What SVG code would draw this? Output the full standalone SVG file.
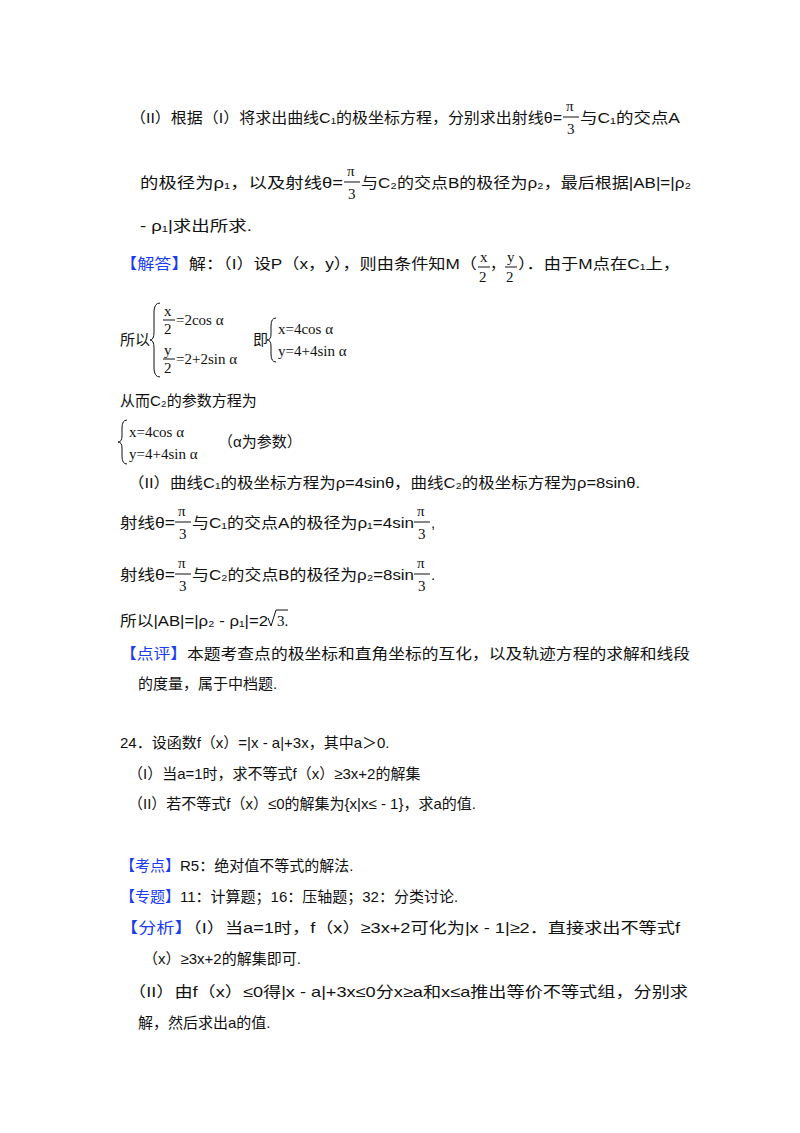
<svg xmlns="http://www.w3.org/2000/svg" width="800" height="1133" viewBox="0 0 800 1133">
<style>
text{font-family:"Liberation Sans","Noto Sans CJK SC",sans-serif;font-size:15px;fill:#111}
.b{fill:#1a3cf0}
.m{font-family:"Liberation Serif","Noto Sans CJK SC",serif;font-size:15px}
.fl{stroke:#111;stroke-width:1}
.br{fill:none;stroke:#111;stroke-width:1}
</style>
<rect width="800" height="1133" fill="#fff"/>
<g id="p1">
<text x="130" y="123" textLength="432" lengthAdjust="spacingAndGlyphs">（II）根据（I）将求出曲线C₁的极坐标方程，分别求出射线θ=</text>
<text class="m" x="566" y="111">π</text><line class="fl" x1="563" y1="117" x2="579" y2="117"/><text class="m" x="567" y="134">3</text>
<text x="580" y="123" textLength="100" lengthAdjust="spacingAndGlyphs">与C₁的交点A</text>
<text x="140" y="188" textLength="203" lengthAdjust="spacingAndGlyphs">的极径为ρ₁，以及射线θ=</text>
<text class="m" x="347" y="176">π</text><line class="fl" x1="344" y1="182" x2="360" y2="182"/><text class="m" x="348" y="199">3</text>
<text x="361" y="188" textLength="330" lengthAdjust="spacingAndGlyphs">与C₂的交点B的极径为ρ₂，最后根据|AB|=|ρ₂</text>
<text x="140" y="231" textLength="112" lengthAdjust="spacingAndGlyphs">- ρ₁|求出所求.</text>
</g>
<g id="p2">
<text x="120" y="269" textLength="357" lengthAdjust="spacingAndGlyphs"><tspan class="b">【解答】</tspan>解：（I）设P（x，y），则由条件知M（</text>
<text class="m" x="480" y="262">x</text><line class="fl" x1="478" y1="267" x2="490" y2="267"/><text class="m" x="479" y="282">2</text>
<text x="490" y="269">，</text>
<text class="m" x="507" y="262">y</text><line class="fl" x1="505" y1="267" x2="517" y2="267"/><text class="m" x="506" y="282">2</text>
<text x="518" y="269" textLength="162" lengthAdjust="spacingAndGlyphs">）．由于M点在C₁上，</text>
</g>
<g id="sys1">
<text x="120" y="345">所以</text>
<path class="br" d="M160,303 Q154,303 154,312 L154,332 Q154,340 150,340 Q154,340 154,348 L154,368 Q154,377 160,377"/>
<text class="m" x="164" y="316">x</text><line class="fl" x1="163" y1="320" x2="175" y2="320"/><text class="m" x="164" y="334">2</text>
<text class="m" x="176" y="325">=2cos α</text>
<text class="m" x="164" y="355">y</text><line class="fl" x1="163" y1="359" x2="175" y2="359"/><text class="m" x="164" y="373">2</text>
<text class="m" x="176" y="364">=2+2sin α</text>
<text x="253" y="345">即</text>
<path class="br" d="M276,318 Q271,318 271,326 L271,334 Q271,340 267,340 Q271,340 271,346 L271,354 Q271,362 276,362"/>
<text class="m" x="278" y="334">x=4cos α</text>
<text class="m" x="278" y="356">y=4+4sin α</text>
</g>
<g id="p3">
<text x="120" y="406">从而C₂的参数方程为</text>
<path class="br" d="M127,420 Q122,420 122,428 L122,436 Q122,442 118,442 Q122,442 122,448 L122,456 Q122,464 127,464"/>
<text class="m" x="129" y="437">x=4cos α</text>
<text class="m" x="129" y="459">y=4+4sin α</text>
<text x="218" y="447">（α为参数）</text>
<text x="128" y="488" textLength="512" lengthAdjust="spacingAndGlyphs">（II）曲线C₁的极坐标方程为ρ=4sinθ，曲线C₂的极坐标方程为ρ=8sinθ.</text>
<text x="120" y="528" textLength="55" lengthAdjust="spacingAndGlyphs">射线θ=</text>
<text class="m" x="178" y="516">π</text><line class="fl" x1="175" y1="522" x2="191" y2="522"/><text class="m" x="179" y="539">3</text>
<text x="192" y="528" textLength="222" lengthAdjust="spacingAndGlyphs">与C₁的交点A的极径为ρ₁=4sin</text>
<text class="m" x="417" y="516">π</text><line class="fl" x1="414" y1="522" x2="430" y2="522"/><text class="m" x="418" y="539">3</text>
<text x="431" y="528">,</text>
<text x="120" y="580" textLength="55" lengthAdjust="spacingAndGlyphs">射线θ=</text>
<text class="m" x="178" y="568">π</text><line class="fl" x1="175" y1="574" x2="191" y2="574"/><text class="m" x="179" y="591">3</text>
<text x="192" y="580" textLength="222" lengthAdjust="spacingAndGlyphs">与C₂的交点B的极径为ρ₂=8sin</text>
<text class="m" x="417" y="568">π</text><line class="fl" x1="414" y1="574" x2="430" y2="574"/><text class="m" x="418" y="591">3</text>
<text x="431" y="580">.</text>
<text x="120" y="626" textLength="148" lengthAdjust="spacingAndGlyphs">所以|AB|=|ρ₂ - ρ₁|=2</text>
<path class="br" d="M268,618 L271,626 L276,610 L288,610"/>
<text class="m" x="277" y="626">3.</text>
<text x="120" y="659" textLength="570" lengthAdjust="spacingAndGlyphs"><tspan class="b">【点评】</tspan>本题考查点的极坐标和直角坐标的互化，以及轨迹方程的求解和线段</text>
<text x="138" y="689">的度量，属于中档题.</text>
</g>
<g id="q24">
<text x="120" y="748">24．设函数f（x）=|x - a|+3x，其中a＞0.</text>
<text x="128" y="779">（I）当a=1时，求不等式f（x）≥3x+2的解集</text>
<text x="128" y="809">（II）若不等式f（x）≤0的解集为{x|x≤ - 1}，求a的值.</text>
<text x="120" y="871"><tspan class="b">【考点】</tspan>R5：绝对值不等式的解法.</text>
<text x="120" y="902"><tspan class="b">【专题】</tspan>11：计算题；16：压轴题；32：分类讨论.</text>
<text x="120" y="933" textLength="560" lengthAdjust="spacingAndGlyphs"><tspan class="b">【分析】</tspan>（I）当a=1时，f（x）≥3x+2可化为|x - 1|≥2．直接求出不等式f</text>
<text x="143" y="964">（x）≥3x+2的解集即可.</text>
<text x="128" y="997" textLength="560" lengthAdjust="spacingAndGlyphs">（II）由f（x）≤0得|x - a|+3x≤0分x≥a和x≤a推出等价不等式组，分别求</text>
<text x="138" y="1028">解，然后求出a的值.</text>
</g>
</svg>
